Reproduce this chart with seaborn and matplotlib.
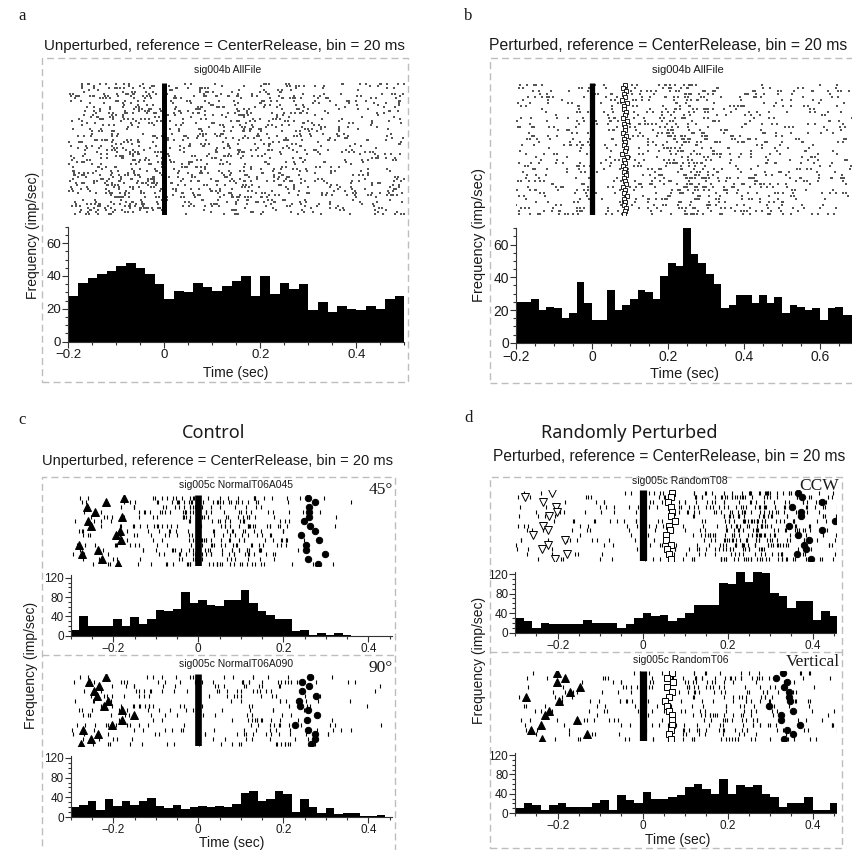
import numpy as np
import pandas as pd
import matplotlib
matplotlib.use("Agg")
import matplotlib.pyplot as plt
import seaborn as sns
from matplotlib.patches import Rectangle
from matplotlib.lines import Line2D
from matplotlib.ticker import MultipleLocator, FuncFormatter

BIN = 0.02  # 20 ms bins

# ---- panel a: unperturbed, sig004b AllFile (imp/sec, bins from -0.2 s)
a_start = -0.2
a_trials = 64
a_rates = [28, 36, 39, 41, 43, 46, 48, 45, 41, 35, 26, 31, 30, 36, 33, 31, 34, 37,
           40, 28, 40, 29, 36, 32, 35, 19, 24, 18, 22, 20, 19, 22, 20, 26, 28]

# ---- panel b: perturbed, sig004b AllFile
b_start = -0.2
b_trials = 44
b_rates = [25, 25, 27, 20, 22, 21, 15, 18, 37, 24, 14, 14, 32, 20, 23, 27, 32, 31,
           27, 41, 49, 47, 70, 54, 49, 42, 36, 21, 23, 29, 29, 24, 29, 24, 28, 18,
           23, 22, 20, 21, 14, 21, 22, 17, 17]
b_squares = [0.086, 0.082, 0.090, 0.084, 0.088, 0.080, 0.092, 0.085, 0.083, 0.089,
             0.087, 0.081, 0.091, 0.084, 0.086, 0.088, 0.082, 0.090, 0.085, 0.087,
             0.083, 0.089, 0.086, 0.080, 0.092, 0.084, 0.088, 0.082, 0.087, 0.085,
             0.090, 0.083, 0.086, 0.089, 0.081, 0.088, 0.084, 0.091, 0.085, 0.087,
             0.083, 0.089, 0.086, 0.084]

# ---- panels c / d: 15 trials each, bins from -0.3 s
cd_start = -0.3
cd_trials = 15
c1_rates = [12, 41, 21, 21, 21, 34, 21, 38, 25, 34, 54, 52, 55, 90, 68, 74, 64, 62, 74,
            74, 94, 68, 52, 42, 34, 34, 9, 12, 2, 5, 2, 5, 2, 0, 0, 0, 0, 0]
c1_triangles = [-0.175, -0.217, -0.263, -0.242, -0.180, -0.259, -0.253, -0.184,
                -0.194, -0.183, -0.281, -0.237, -0.274, -0.226, -0.188]
c1_circles = [0.258, 0.274, 0.260, 0.261, 0.260, 0.248, 0.263, 0.275, 0.241, 0.285,
              0.253, 0.253, 0.299, 0.258, 0.282]

c2_rates = [20, 25, 32, 15, 36, 22, 32, 25, 32, 39, 22, 19, 25, 17, 21, 22, 20, 22, 20,
            26, 49, 53, 32, 36, 53, 46, 11, 36, 20, 8, 19, 6, 8, 8, 2, 2, 5, 0]
c2_triangles = [-0.218, -0.257, -0.234, -0.246, -0.239, -0.212, -0.221, -0.180,
                -0.151, -0.180, -0.202, -0.272, -0.237, -0.253, -0.276]
c2_circles = [0.263, 0.244, 0.261, 0.243, 0.277, 0.236, 0.239, 0.257, 0.280, 0.255,
              0.228, 0.257, 0.274, 0.275, 0.265]

d1_rates = [31, 23, 10, 19, 17, 17, 17, 17, 27, 20, 20, 20, 10, 17, 31, 41, 34, 37, 23,
            31, 41, 57, 57, 57, 102, 99, 126, 103, 129, 122, 82, 75, 51, 64, 64, 27, 44, 34]
d1_triangles = [-0.213, -0.277, -0.234, -0.204, -0.201, -0.220, np.nan, -0.235,
                -0.224, -0.257, -0.183, -0.224, -0.236, -0.179, -0.206]
d1_squares = [0.068, 0.066, 0.060, 0.066, 0.070, 0.066, 0.076, 0.063, 0.064, 0.054,
              0.054, 0.066, 0.056, 0.062, 0.066]
d1_circles = [0.365, 0.375, 0.421, 0.352, 0.373, 0.373, 0.452, 0.344, 0.422, 0.366,
              0.392, 0.380, 0.384, 0.362, 0.396]

d2_rates = [10, 20, 17, 7, 17, 20, 13, 13, 13, 20, 27, 7, 37, 27, 20, 43, 30, 30, 33,
            37, 53, 60, 50, 40, 70, 40, 57, 53, 57, 40, 33, 13, 20, 20, 33, 7, 7, 20]
d2_triangles = [-0.202, -0.183, -0.202, -0.147, -0.171, -0.275, -0.197, np.nan,
                -0.220, -0.230, -0.154, -0.240, -0.264, -0.130, -0.236]
d2_squares = [0.070, 0.056, 0.072, 0.056, 0.069, 0.061, 0.053, 0.056, 0.062, 0.070,
              0.070, 0.069, 0.067, 0.061, 0.067]
d2_circles = [0.331, 0.314, 0.339, 0.333, 0.344, 0.345, 0.347, 0.298, 0.353, 0.325,
              0.325, 0.369, 0.339, 0.353, 0.333]

REF_TIME = 0.0  # CenterRelease

sns.set_theme(style="white")
plt.rcParams['font.family'] = ['Liberation Sans', 'DejaVu Sans']
plt.rcParams['axes.unicode_minus'] = True

W, H = 852, 850
fig = plt.figure(figsize=(W / 100, H / 100), dpi=100)
INK = '#1a1a1a'
SERIF = ['Liberation Serif', 'DejaVu Serif']
TITLE_FONT = ['Noto Sans', 'DejaVu Sans']


def ax_px(x0, y0, x1, y1):
    return fig.add_axes([x0 / W, 1 - y1 / H, (x1 - x0) / W, (y1 - y0) / H])


def ftext(x, y, s, **kw):
    kw.setdefault('color', INK)
    fig.text(x / W, 1 - y / H, s, va='center', **kw)


def dashed_box(x0, y0, x1, y1):
    fig.patches.append(Rectangle((x0 / W, 1 - y1 / H), (x1 - x0) / W, (y1 - y0) / H,
                                 transform=fig.transFigure, fill=False,
                                 ec='#bdbdbd', lw=1.0, ls=(0, (5, 3))))


def hline(x0, x1, y):
    fig.lines.append(Line2D([x0 / W, x1 / W], [1 - y / H, 1 - y / H],
                            transform=fig.transFigure, color='#bdbdbd',
                            lw=1.0, ls=(0, (5, 3))))


def mix(j):
    # integer hash, used to scatter spikes over trials inside a bin
    h = (j * 0x45d9f3b) % 4294967296
    h = ((h ^ (h >> 16)) * 0x45d9f3b) % 4294967296
    return h ^ (h >> 16)


def spikes_from_rates(rates, start, n_trials):
    # spike counts per bin follow from the PSTH: rate * trials * bin width
    times, rows = [], []
    j = 0
    for b, r in enumerate(rates):
        n = int(round(r * n_trials * BIN))
        for k in range(n):
            j += 1
            h = mix(j + 7919)
            rows.append(h % n_trials)
            times.append(start + (b + ((h >> 10) % 1000) / 1000) * BIN)
    return np.array(times), np.array(rows)


fmt = FuncFormatter(lambda v, _: f"{v:g}".replace('-', '\u2212'))


def psth(ax, rates, start, xlim, ylim, major_y, minor_y, labelsize):
    edges = start + BIN * np.arange(len(rates) + 1)
    df = pd.DataFrame({'t': edges[:-1] + BIN / 2, 'rate': rates})
    sns.histplot(data=df, x='t', weights='rate', bins=list(edges), element='step',
                 fill=True, color='black', alpha=1, linewidth=0, ax=ax)
    ax.set_xlim(*xlim)
    ax.set_ylim(*ylim)
    ax.set_xlabel('')
    ax.set_ylabel('')
    ax.xaxis.set_major_locator(MultipleLocator(0.2))
    ax.xaxis.set_minor_locator(MultipleLocator(0.05))
    ax.yaxis.set_major_locator(MultipleLocator(major_y))
    ax.yaxis.set_minor_locator(MultipleLocator(minor_y))
    ax.xaxis.set_major_formatter(fmt)
    sns.despine(ax=ax)
    for s in ('left', 'bottom'):
        ax.spines[s].set_color('#333333')
        ax.spines[s].set_linewidth(0.8)
    ax.tick_params(which='both', direction='out', bottom=True, left=True,
                   color='#333333', width=0.8, labelcolor=INK, labelsize=labelsize, pad=1)
    ax.tick_params(which='major', length=4)
    ax.tick_params(which='minor', length=2)
    ax.patch.set_alpha(0)


def raster(ax, rates, start, n_trials, xlim, dots, bar_lw):
    t, r = spikes_from_rates(rates, start, n_trials)
    if dots:
        ax.scatter(t, r, s=0.8, marker='s', color='#555555', linewidths=0)
    else:
        ax.plot(t, r, ls='none', marker='|', ms=2.4, mew=0.8, color='black')
    ax.vlines(REF_TIME, -0.5, n_trials - 0.5, color='black', lw=bar_lw)
    ax.set_xlim(*xlim)
    ax.set_ylim(n_trials - 0.5, -0.5)
    ax.axis('off')


def events(ax, times, marker, size, filled=True, mew=0.7):
    rows = np.arange(len(times))
    ax.plot(times, rows, ls='none', marker=marker, ms=size,
            mfc='black' if filled else 'white', mec='black', mew=mew, zorder=5)


# ---------------- panel a
dashed_box(42, 58, 408, 382)
ftext(18, 16, 'a', fontsize=12, family=SERIF)
ftext(224, 46, 'Unperturbed, reference = CenterRelease, bin = 20 ms', fontsize=10.9, ha='center')
ftext(228, 70, 'sig004b AllFile', fontsize=7.5, ha='center')
ax = ax_px(68.3, 83, 404.3, 215)
raster(ax, a_rates, a_start, a_trials, (-0.2, 0.5), True, 3.6)
ax = ax_px(68.3, 226.7, 404.3, 341.7)
psth(ax, a_rates, a_start, (-0.2, 0.5), (0, 70), 20, 5, 9.5)
ftext(33, 235, 'Frequency (imp/sec)', fontsize=10, rotation=90, ha='center')
ftext(236, 373, 'Time (sec)', fontsize=10, ha='center')

# ---------------- panel b
dashed_box(490, 58, 880, 383)
ftext(464, 16, 'b', fontsize=12, family=SERIF)
ftext(489, 46, 'Perturbed, reference = CenterRelease, bin = 20 ms', fontsize=11.3, ha='left')
ftext(688, 70, 'sig004b AllFile', fontsize=8, ha='center')
ax = ax_px(516, 83, 858, 215)
raster(ax, b_rates, b_start, b_trials, (-0.2, 0.7), True, 3.8)
events(ax, b_squares, 's', 3.4, filled=False, mew=0.6)
ax = ax_px(516, 228.3, 858, 342.7)
psth(ax, b_rates, b_start, (-0.2, 0.7), (0, 70), 20, 5, 10)
ftext(479, 235, 'Frequency (imp/sec)', fontsize=10.5, rotation=90, ha='center')
ftext(684, 374, 'Time (sec)', fontsize=10.5, ha='center')

# ---------------- panel c
CX = (70.8, 391.7)
dashed_box(42, 477, 395, 880)
hline(42, 395, 655)
ftext(18, 420, 'c', fontsize=12, family=SERIF)
ftext(214, 433, 'Control', fontsize=13, ha='center', family=TITLE_FONT)
ftext(217, 461, 'Unperturbed, reference = CenterRelease, bin = 20 ms', fontsize=10.5, ha='center')
ftext(236, 485, 'sig005c NormalT06A045', fontsize=7.5, ha='center')
ftext(393, 490, '45°', fontsize=12.5, ha='right', family=SERIF)
ax = ax_px(CX[0], 495.3, CX[1], 566)
raster(ax, c1_rates, cd_start, cd_trials, (-0.3, 0.455), False, 4.8)
events(ax, c1_triangles, '^', 6)
events(ax, c1_circles, 'o', 4.6)
ax = ax_px(CX[0], 575.3, CX[1], 635.7)
psth(ax, c1_rates, cd_start, (-0.3, 0.455), (0, 125), 40, 10, 8.5)

ftext(236, 664, 'sig005c NormalT06A090', fontsize=7.5, ha='center')
ftext(393, 668, '90°', fontsize=12.5, ha='right', family=SERIF)
ax = ax_px(CX[0], 674.3, CX[1], 746.4)
raster(ax, c2_rates, cd_start, cd_trials, (-0.3, 0.455), False, 4.8)
events(ax, c2_triangles, '^', 6)
events(ax, c2_circles, 'o', 4.6)
ax = ax_px(CX[0], 755.5, CX[1], 817)
psth(ax, c2_rates, cd_start, (-0.3, 0.455), (0, 125), 40, 10, 8.5)
ftext(31, 665, 'Frequency (imp/sec)', fontsize=10, rotation=90, ha='center')
ftext(232, 843, 'Time (sec)', fontsize=10, ha='center')

# ---------------- panel d
DX = (515.2, 836.1)
dashed_box(490, 477, 842, 848)
hline(490, 842, 652)
ftext(464, 418, 'd', fontsize=12, family=SERIF)
ftext(629, 433, 'Randomly Perturbed', fontsize=13, ha='center', family=TITLE_FONT)
ftext(493, 457, 'Perturbed, reference = CenterRelease, bin = 20 ms', fontsize=11.2, ha='left')
ftext(680, 481, 'sig005c RandomT08', fontsize=7.5, ha='center')
ftext(839, 486, 'CCW', fontsize=12.5, ha='right', family=SERIF)
ax = ax_px(DX[0], 490.3, DX[1], 561)
raster(ax, d1_rates, cd_start, cd_trials, (-0.3, 0.455), False, 5.2)
events(ax, d1_triangles, 'v', 5.5, filled=False)
events(ax, d1_squares, 's', 4.6, filled=False)
events(ax, d1_circles, 'o', 4.6)
ax = ax_px(DX[0], 571.6, DX[1], 632.7)
psth(ax, d1_rates, cd_start, (-0.3, 0.455), (0, 125), 40, 10, 8.5)

ftext(681, 660, 'sig005c RandomT06', fontsize=7.5, ha='center')
ftext(840, 662, 'Vertical', fontsize=12.5, ha='right', family=SERIF)
ax = ax_px(DX[0], 670.6, DX[1], 741.4)
raster(ax, d2_rates, cd_start, cd_trials, (-0.3, 0.455), False, 5.2)
events(ax, d2_triangles, '^', 6)
events(ax, d2_squares, 's', 4.6, filled=False)
events(ax, d2_circles, 'o', 4.6)
ax = ax_px(DX[0], 752.6, DX[1], 813)
psth(ax, d2_rates, cd_start, (-0.3, 0.455), (0, 125), 40, 10, 8.5)
ftext(479, 660, 'Frequency (imp/sec)', fontsize=10, rotation=90, ha='center')
ftext(678, 840, 'Time (sec)', fontsize=10, ha='center')

fig.savefig('out.png', dpi=100)
